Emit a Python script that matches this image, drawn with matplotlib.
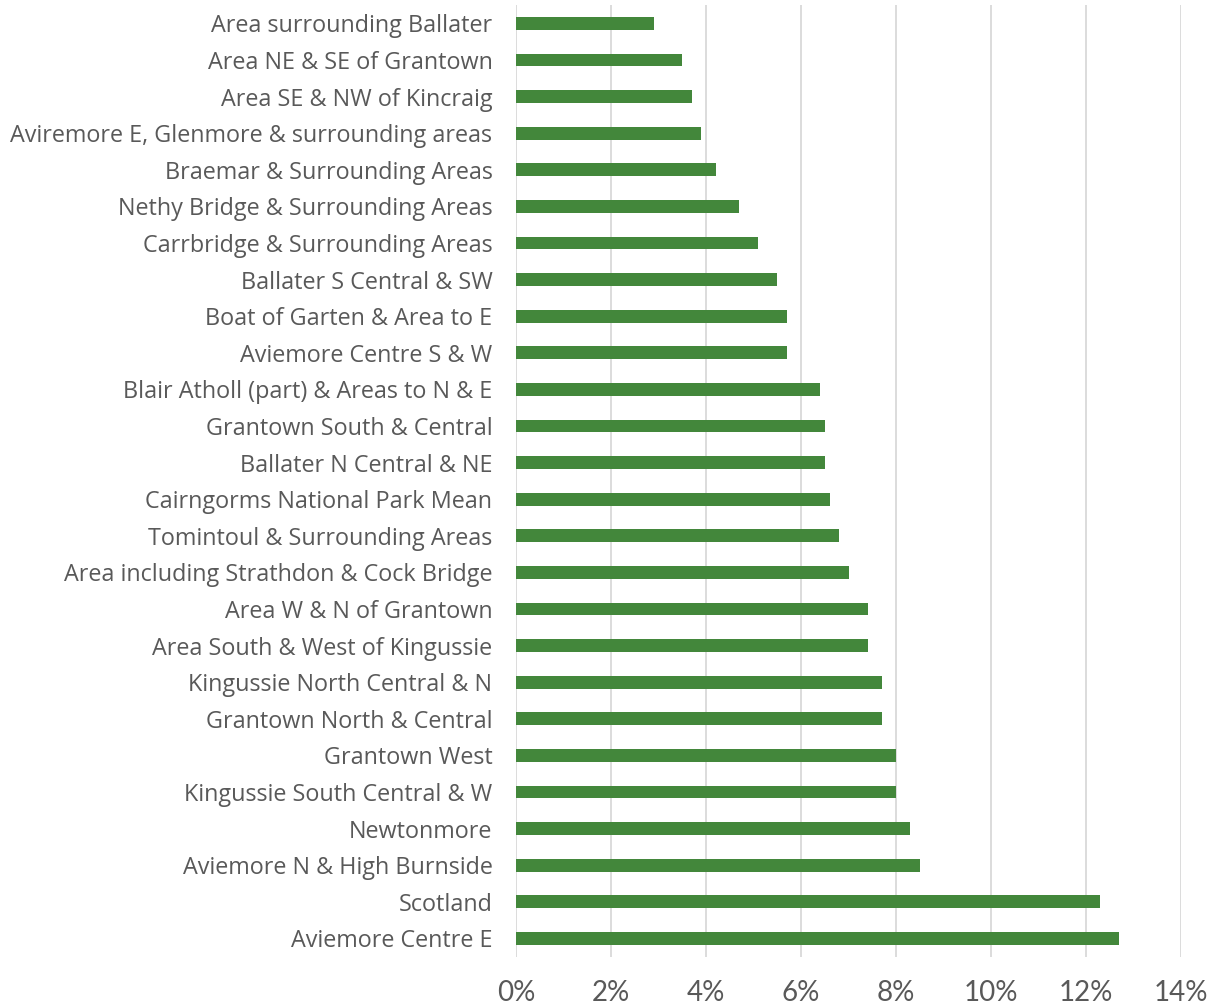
import matplotlib
matplotlib.use("Agg")
import matplotlib.pyplot as plt
from matplotlib.ticker import FuncFormatter, MultipleLocator

# Areas listed top to bottom
areas = [
    "Area surrounding Ballater",
    "Area NE & SE of Grantown",
    "Area SE & NW of Kincraig",
    "Aviremore E, Glenmore & surrounding areas",
    "Braemar & Surrounding Areas",
    "Nethy Bridge & Surrounding Areas",
    "Carrbridge & Surrounding Areas",
    "Ballater S Central & SW",
    "Boat of Garten & Area to E",
    "Aviemore Centre S & W",
    "Blair Atholl (part) & Areas to N & E",
    "Grantown South & Central",
    "Ballater N Central & NE",
    "Cairngorms National Park Mean",
    "Tomintoul & Surrounding Areas",
    "Area including Strathdon & Cock Bridge",
    "Area W & N of Grantown",
    "Area South & West of Kingussie",
    "Kingussie North Central & N",
    "Grantown North & Central",
    "Grantown West",
    "Kingussie South Central & W",
    "Newtonmore",
    "Aviemore N & High Burnside",
    "Scotland",
    "Aviemore Centre E",
]
share = [2.9, 3.5, 3.7, 3.9, 4.2, 4.7, 5.1, 5.5, 5.7, 5.7,
         6.4, 6.5, 6.5, 6.6, 6.8, 7.0, 7.4, 7.4, 7.7, 7.7,
         8.0, 8.0, 8.3, 8.5, 12.3, 12.7]

GREEN = "#43873b"
TEXT = "#595959"
GRID = "#d9d9d9"

fig = plt.figure(figsize=(12.2, 10.05), dpi=100)
ax = fig.add_axes([0.423, 0.048, 0.545, 0.947])

pos = list(range(len(areas)))
ax.barh(pos, share, height=0.35, color=GREEN, zorder=3)

ax.set_xlim(0, 14)
ax.set_ylim(len(areas) - 0.5, -0.5)
ax.xaxis.set_major_locator(MultipleLocator(2))
ax.xaxis.set_major_formatter(FuncFormatter(lambda v, _: f"{v:.0f}%"))
ax.grid(axis="x", color=GRID, linewidth=1.3, zorder=0)

ax.set_yticks(pos)
ax.set_yticklabels(areas, fontfamily="Open Sans", fontsize=16.8, color=TEXT)
for lbl in ax.get_xticklabels():
    lbl.set_fontfamily(["Liberation Sans Narrow", "Lato"])
    lbl.set_fontsize(20)
    lbl.set_color(TEXT)

ax.tick_params(axis="y", length=0, pad=17)
ax.tick_params(axis="x", length=0, pad=17)
for s in ax.spines.values():
    s.set_visible(False)

fig.savefig("out.png", dpi=100, facecolor="white")
